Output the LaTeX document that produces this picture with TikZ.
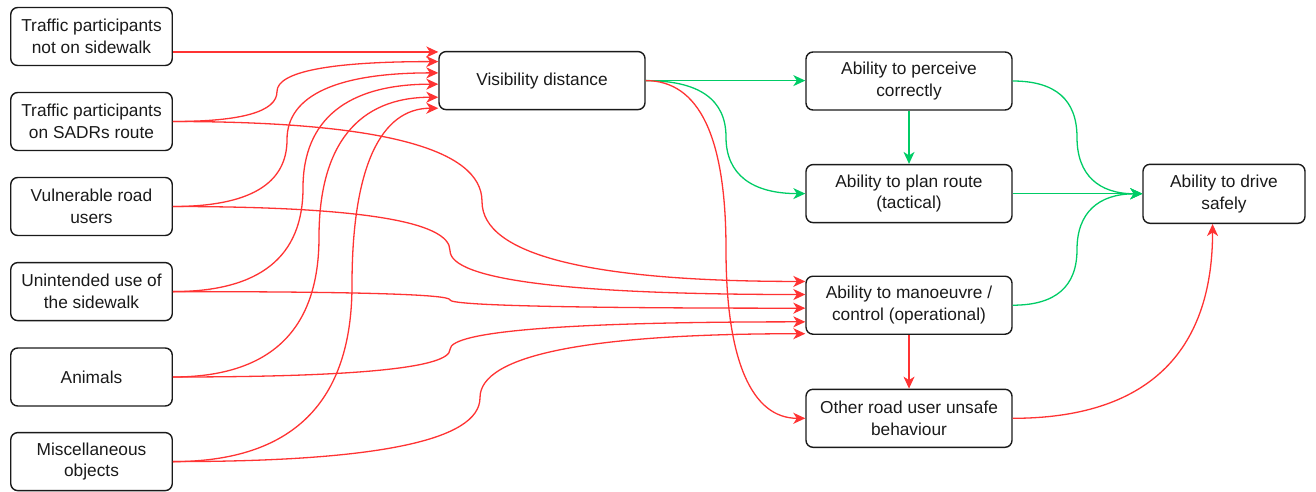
\documentclass[tikz,border=0pt]{standalone}
\usepackage{fontspec}
\setmainfont{Liberation Sans}
\usetikzlibrary{arrows.meta,calc}
\definecolor{redline}{HTML}{FF3333}
\definecolor{greenline}{HTML}{00CC66}
\definecolor{boxline}{HTML}{1A1A1A}

% Orthogonal connector drawn as a smooth curve: horizontal out of the start,
% turning through a vertical run at x = #4 (pt), horizontal into the end.
\newcommand\ocurve[4][]{%
  \draw[conn,#1] let \p1=(#2), \p2=(#3) in
    (\p1) .. controls ({\x1+2/3*(#4pt-\x1)},\y1)
              and (#4pt,{(\y1+\y2)/2+(\y1-\y2)/3}) .. (#4pt,{(\y1+\y2)/2})
          .. controls (#4pt,{(\y1+\y2)/2+(\y2-\y1)/3})
              and ({\x2+2/3*(#4pt-\x2)},\y2) .. (\p2);}

\begin{document}
\begin{tikzpicture}[x=1pt,y=-1pt,
  box/.style={draw=boxline, line width=1.4pt, rounded corners=7pt,
    align=center, text=boxline, inner sep=2pt,
    minimum height=58pt, font=\fontsize{17.3}{21.7}\selectfont},
  srcbox/.style={box, minimum width=161.5pt},
  midbox/.style={box, minimum width=206pt},
  conn/.style={line width=1.3pt, draw=redline,
    -{Stealth[length=12pt,width=11pt,inset=3.5pt]}},
  good/.style={draw=greenline}]
\useasboundingbox (0,0) rectangle (1316,491);

% factor nodes on the left
\node[srcbox] (b1) at (91.5,36.5)  {Traffic participants\\not on sidewalk};
\node[srcbox] (b2) at (91.5,121.5) {Traffic participants\\on SADRs route};
\node[srcbox] (b3) at (91.5,206.5) {Vulnerable road\\users};
\node[srcbox] (b4) at (91.5,291.6) {Unintended use of\\the sidewalk};
\node[srcbox] (b5) at (91.5,377)   {Animals};
\node[srcbox] (b6) at (91.5,461.6) {Miscellaneous\\objects};

% intermediate and capability nodes
\node[midbox] (vis)  at (542,80.6)  {Visibility distance};
\node[midbox] (per)  at (909,81)    {Ability to perceive\\correctly};
\node[midbox] (plan) at (909,193.6) {Ability to plan route\\(tactical)};
\node[midbox] (man)  at (909,305.2) {Ability to manoeuvre /\\control (operational)};
\node[midbox] (oth)  at (909,418.3) {Other road user unsafe\\behaviour};
\node[box, minimum width=162pt, minimum height=59pt] (drv) at (1224,193.8)
  {Ability to drive\\safely};

% inputs to the visibility distance
\coordinate (b1out) at ($(b1.north east)!0.76!(b1.south east)$);
\draw[conn] (b1out) -- (b1out -| vis.west);
\ocurve{b2.east}{$(vis.north west)!0.18!(vis.south west)$}{277}
\ocurve{b3.east}{$(vis.north west)!0.37!(vis.south west)$}{287}
\ocurve{b4.east}{$(vis.north west)!0.56!(vis.south west)$}{303}
\ocurve{b5.east}{$(vis.north west)!0.78!(vis.south west)$}{319}
\ocurve{b6.east}{$(vis.north west)!0.965!(vis.south west)$}{352}

% inputs to the operational ability
\ocurve{b2.east}{$(man.north west)!0.10!(man.south west)$}{482}
\ocurve{b3.east}{$(man.north west)!0.32!(man.south west)$}{450}
\ocurve{b4.east}{$(man.north west)!0.55!(man.south west)$}{450}
\ocurve{b5.east}{$(man.north west)!0.78!(man.south west)$}{450}
\ocurve{b6.east}{$(man.north west)!0.98!(man.south west)$}{480}

% from the visibility distance
\draw[conn,good] (vis.east) -- (vis.east -| per.west);
\ocurve[good]{vis.east}{plan.west}{726}
\ocurve{vis.east}{oth.west}{726}

% capabilities towards safe driving
\draw[conn,good] (per.south) -- (per.south |- plan.north);
\ocurve[good]{per.east}{drv.west}{1077}
\draw[conn,good] (plan.east) -- (plan.east -| drv.west);
\ocurve[good]{man.east}{drv.west}{1077}
\draw[conn] (man.south) -- (man.south |- oth.north);

% unsafe behaviour of others into safe driving
\coordinate (drvin) at ($(drv.south west)!0.43!(drv.south east)$);
\draw[conn] let \p1=(oth.east), \p2=(drvin) in
  (\p1) .. controls ({\x1+2/3*(\x2-\x1)},\y1) and (\x2,{\y2+2/3*(\y1-\y2)}) .. (\p2);
\end{tikzpicture}
\end{document}
